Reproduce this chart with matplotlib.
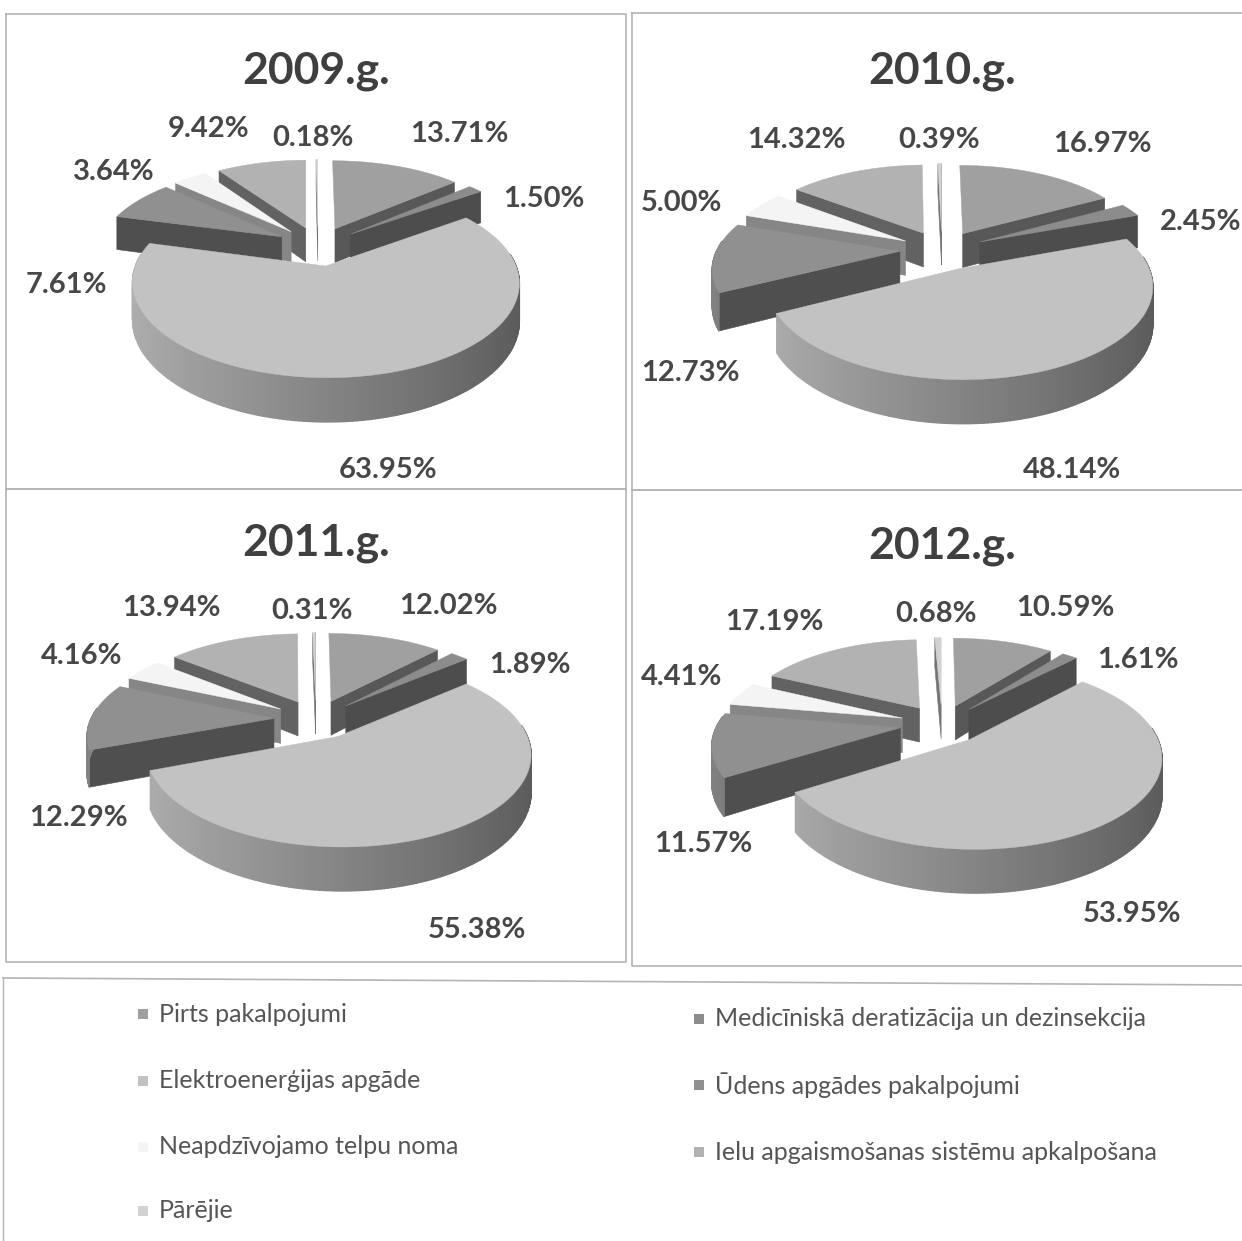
import numpy as np
import matplotlib
matplotlib.use("Agg")
import matplotlib.pyplot as plt

categories = ["Pirts pakalpojumi", "Medicīniskā deratizācija un dezinsekcija",
              "Elektroenerģijas apgāde", "Ūdens apgādes pakalpojumi",
              "Neapdzīvojamo telpu noma", "Ielu apgaismošanas sistēmu apkalpošana",
              "Pārējie"]
years = ["2009.g.", "2010.g.", "2011.g.", "2012.g."]
values_2009 = [13.71, 1.50, 63.95, 7.61, 3.64, 9.42, 0.18]
values_2010 = [16.97, 2.45, 48.14, 12.73, 5.00, 14.32, 0.39]
values_2011 = [12.02, 1.89, 55.38, 12.29, 4.16, 13.94, 0.31]
values_2012 = [10.59, 1.61, 53.95, 11.57, 4.41, 17.19, 0.68]
series = [values_2009, values_2010, values_2011, values_2012]

colors = ["#a0a0a0", "#8c8c8c", "#c2c2c2", "#909090", "#f4f4f4", "#b2b2b2", "#d2d2d2"]
TXT = "#474747"
W, H = 1242, 1241
RX, RY, K, DEPTH, EXPL = 183, 85, 0.17, 35, 0.23
centers = [(318, 246), (942, 250), (316, 719), (942, 724)]
title_pos = [(316, 71), (942, 71), (316, 543), (942, 546)]
label_pos = [
    [(459, 134), (544, 199), (388, 470), (66, 285), (114, 172), (209, 129), (313, 138)],
    [(1102, 144), (1201, 222), (1072, 470), (690, 373), (681, 203), (796, 140), (939, 140)],
    [(448, 606), (530, 665), (477, 930), (78, 818), (82, 656), (171, 608), (312, 611)],
    [(1065, 608), (1138, 660), (1132, 914), (703, 844), (682, 677), (774, 622), (936, 614)],
]
panels = [(6, 14, 626, 489), (632, 13, 1243, 490), (6, 489, 626, 962), (632, 490, 1243, 966)]
legend_pos = [(143, 1014), (699, 1019), (143, 1081), (699, 1085), (143, 1147), (699, 1152), (143, 1211)]

plt.rcParams["font.family"] = ["Lato", "DejaVu Sans"]
fig = plt.figure(figsize=(W / 100, H / 100), dpi=100)
ax = fig.add_axes([0, 0, 1, 1])
ax.set_xlim(0, W)
ax.set_ylim(H, 0)
ax.axis("off")


def shade(hex_color, f):
    r, g, b = matplotlib.colors.to_rgb(hex_color)
    return (r * f, g * f, b * f)


def project(c, x, y, z=0.0):
    p = 1.0 / (1.0 + K * y)
    return c[0] + RX * x * p, c[1] - RY * y * p + z * DEPTH * p


def draw_slice(c, a1, a2, color):
    mid = (a1 + a2) / 2
    ox, oy = EXPL * np.sin(mid), EXPL * np.cos(mid)
    th = np.linspace(a1, a2, max(6, int((a2 - a1) * 60)))
    xs, ys = ox + np.sin(th), oy + np.cos(th)
    # cut faces
    for a, visible in ((a1, np.sin(a1) < 0), (a2, np.sin(a2) > 0)):
        if visible:
            ex, ey = ox + np.sin(a), oy + np.cos(a)
            pts = [project(c, ox, oy), project(c, ex, ey), project(c, ex, ey, 1), project(c, ox, oy, 1)]
            ax.fill(*zip(*pts), color=shade(color, 0.55), lw=0.4, zorder=3)
    # outer rim
    for i in range(len(th) - 1):
        if np.cos(th[i]) > 0.12 and np.cos(th[i + 1]) > 0.12:
            continue
        pts = [project(c, xs[i], ys[i]), project(c, xs[i + 1], ys[i + 1]),
               project(c, xs[i + 1], ys[i + 1], 1), project(c, xs[i], ys[i], 1)]
        f = 0.68 - 0.22 * np.sin((th[i] + th[i + 1]) / 2)
        ax.fill(*zip(*pts), color=shade(color, f), lw=1.0, zorder=3)
    # top
    top = [project(c, ox, oy)] + [project(c, x, y) for x, y in zip(xs, ys)]
    ax.fill(*zip(*top), color=color, lw=0.3, zorder=3)


for idx, vals in enumerate(series):
    x0, y0, x1, y1 = panels[idx]
    ax.plot([x0, x1, x1, x0, x0], [y0, y0, y1, y1, y0], color="#b4b4b4", lw=1.2, zorder=1)
    frac = np.cumsum([0] + list(vals)) / sum(vals) * 2 * np.pi
    arcs = [(frac[i], frac[i + 1], colors[i]) for i in range(len(vals))]
    mean_cos = [np.mean(np.cos(np.linspace(a, b, 30))) for a, b, _ in arcs]
    for j in np.argsort(mean_cos)[::-1]:
        draw_slice(centers[idx], *arcs[j])
    ax.text(*title_pos[idx], years[idx], ha="center", va="center", fontsize=32,
            fontweight="bold", color="#3f3f3f", zorder=5)
    for v, pos in zip(vals, label_pos[idx]):
        ax.text(*pos, f"{v:.2f}%", ha="center", va="center", fontsize=21,
                fontweight="bold", color=TXT, zorder=5)

# legend frame
ax.plot([3, 1242], [978, 985], color="#b4b4b4", lw=1.2, zorder=1)
ax.plot([3, 3], [978, 1241], color="#b4b4b4", lw=1.0, zorder=1)
for name, col, (x, y) in zip(categories, colors, legend_pos):
    ax.scatter([x], [y], marker="s", s=60, color=col, linewidths=0, zorder=4)
    ax.text(x + 16, y, name, ha="left", va="center", fontsize=18, color="#555555", zorder=5)

fig.savefig("out.png", dpi=100, facecolor="white")
